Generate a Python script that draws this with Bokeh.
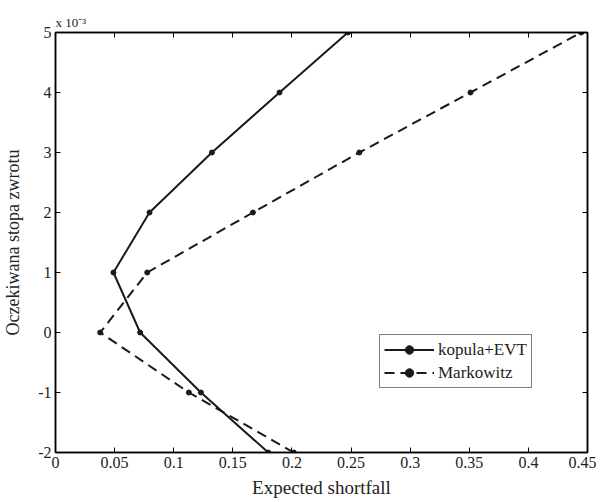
from bokeh.plotting import figure
from bokeh.models import LinearAxis, FixedTicker, Legend, LegendItem, Range1d, Title
from bokeh.embed import file_html
from bokeh.resources import INLINE

# Expected return (x 10^-3)
ret = [-2, -1, 0, 1, 2, 3, 4, 5]
# Expected shortfall
es_kopula = [0.180, 0.123, 0.0716, 0.049, 0.0795, 0.1323, 0.1895, 0.2473]
es_markowitz = [0.2016, 0.1128, 0.0378, 0.0776, 0.167, 0.257, 0.351, 0.4447]

x_ticks = [0, 0.05, 0.1, 0.15, 0.2, 0.25, 0.3, 0.35, 0.4, 0.45]
x_tick_labels = ["0", "0.05", "0.1", "0.15", "0.2", "0.25", "0.3", "0.35", "0.4", "0.45"]
y_ticks = [-2, -1, 0, 1, 2, 3, 4, 5]
y_tick_labels = ["-2", "-1", "0", "1", "2", "3", "4", "5"]

FONT = "Liberation Serif"
TXT = "#222222"

p = figure(frame_width=532, frame_height=420, output_backend="svg", toolbar_location=None,
           x_range=Range1d(0, 0.45), y_range=Range1d(-2, 5),
           min_border_left=46, min_border_right=9, min_border_top=32, min_border_bottom=40,
           x_axis_label="Expected shortfall", y_axis_label="Oczekiwana stopa zwrotu")
p.grid.visible = False
p.outline_line_color = "black"
p.outline_line_width = 1.5
p.background_fill_color = "white"
p.border_fill_color = "white"

def style_axis(ax, ticks, labels=None, show_labels=True):
    ax.ticker = FixedTicker(ticks=ticks)
    if labels is not None:
        ax.major_label_overrides = {t: l for t, l in zip(ticks, labels)}
    ax.major_tick_in = 5
    ax.major_tick_out = 0
    ax.minor_tick_line_color = None
    ax.axis_line_color = "black"
    ax.axis_line_width = 1.5
    ax.major_tick_line_color = "black"
    ax.major_tick_line_width = 1
    ax.major_label_text_font = FONT
    ax.major_label_text_font_size = "16px"
    ax.major_label_text_color = TXT
    ax.axis_label_text_font = FONT
    ax.axis_label_text_font_size = "19px"
    ax.axis_label_text_font_style = "normal"
    ax.axis_label_text_color = TXT
    if not show_labels:
        ax.major_label_text_font_size = "0px"
        ax.major_label_text_color = None
        ax.major_label_standoff = 0

style_axis(p.xaxis[0], x_ticks, x_tick_labels)
style_axis(p.yaxis[0], y_ticks, y_tick_labels)
p.xaxis[0].major_label_standoff = 4
p.xaxis[0].axis_label_standoff = 6
p.yaxis[0].major_label_standoff = 4
p.yaxis[0].axis_label_standoff = 12
p.yaxis[0].axis_label_text_font_size = "18px"

top_ax = LinearAxis()
style_axis(top_ax, x_ticks, show_labels=False)
p.add_layout(top_ax, "above")
right_ax = LinearAxis()
style_axis(right_ax, y_ticks, show_labels=False)
p.add_layout(right_ax, "right")

l1 = p.line(es_kopula, ret, line_color="#1a1a1a", line_width=2)
c1 = p.scatter(es_kopula, ret, size=5, fill_color="#1a1a1a", line_color="#1a1a1a")
l2 = p.line(es_markowitz, ret, line_color="#1a1a1a", line_width=2, line_dash="10 6")
c2 = p.scatter(es_markowitz, ret, size=5, fill_color="#1a1a1a", line_color="#1a1a1a")

legend = Legend(items=[LegendItem(label="kopula+EVT", renderers=[l1, c1]),
                       LegendItem(label="Markowitz", renderers=[l2, c2])],
                location=(324, 64))
legend.border_line_color = "black"
legend.border_line_width = 1.5
legend.label_text_font = FONT
legend.label_text_font_size = "17px"
legend.label_text_color = TXT
legend.glyph_width = 50
legend.glyph_height = 21
legend.spacing = 2
legend.padding = 4
legend.margin = 0
legend.label_standoff = 4
legend.background_fill_alpha = 1
p.add_layout(legend, "center")

p.add_layout(Title(text="x 10\u207b\u00b3", align="left", text_font=FONT,
                   text_font_size="13px", text_font_style="normal", text_color=TXT,
                   offset=0, standoff=6), "above")

open("out.html", "w").write(file_html(p, INLINE))
